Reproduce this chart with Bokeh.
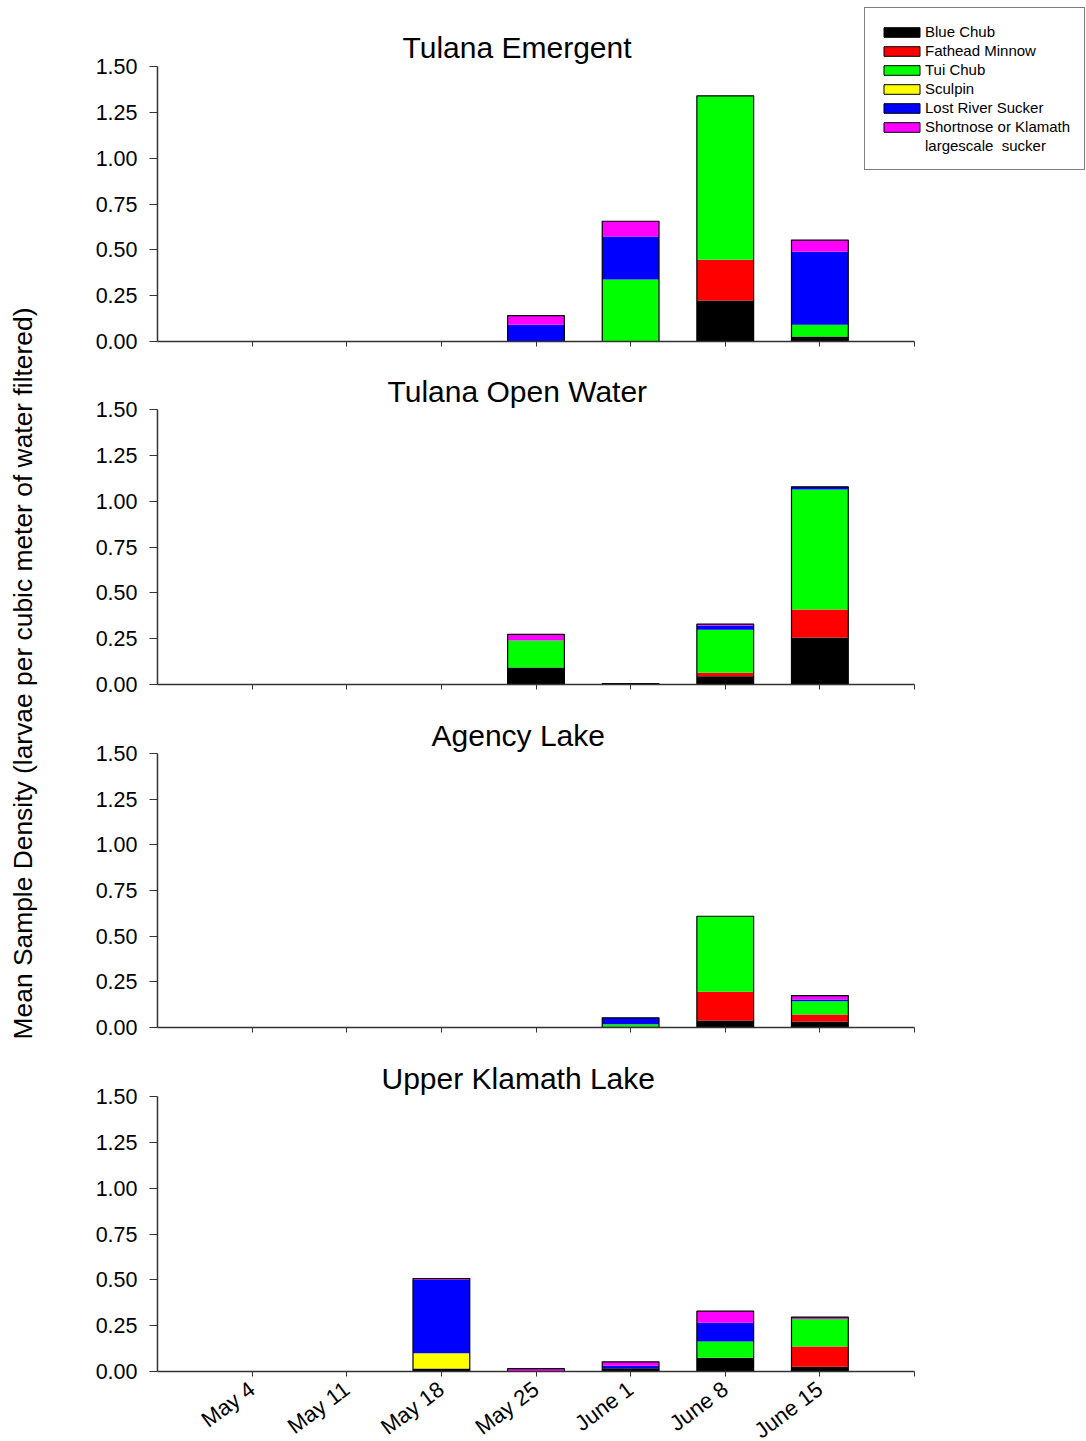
import math
from bokeh.plotting import figure
from bokeh.layouts import column, row
from bokeh.models import (Range1d, FixedTicker, Legend, LegendItem,
                          ColumnDataSource, NumeralTickFormatter)
from bokeh.core.properties import value
from bokeh.embed import file_html
from bokeh.resources import INLINE

FONT = "Liberation Sans"

dates = ["May 4", "May 11", "May 18", "May 25", "June 1", "June 8", "June 15"]
species = ["Blue Chub", "Fathead Minnow", "Tui Chub", "Sculpin",
           "Lost River Sucker", "Shortnose or Klamath"]
species_keys = ["blue_chub", "fathead", "tui", "sculpin", "lrs", "shortnose"]
colors = ["#000000", "#FF0000", "#00FF00", "#FFFF00", "#0000FF", "#FF00FF"]
y_ticks = [0.0, 0.25, 0.5, 0.75, 1.0, 1.25, 1.5]

# Tulana Emergent
te_blue_chub = [0, 0, 0, 0, 0, 0.224, 0.027]
te_fathead = [0, 0, 0, 0, 0, 0.222, 0]
te_tui = [0, 0, 0, 0, 0.338, 0.894, 0.064]
te_sculpin = [0, 0, 0, 0, 0, 0, 0]
te_lrs = [0, 0, 0, 0.091, 0.235, 0, 0.398]
te_shortnose = [0, 0, 0, 0.050, 0.083, 0, 0.064]

# Tulana Open Water
to_blue_chub = [0, 0, 0, 0.093, 0.005, 0.045, 0.256]
to_fathead = [0, 0, 0, 0, 0, 0.019, 0.153]
to_tui = [0, 0, 0, 0.147, 0, 0.234, 0.655]
to_sculpin = [0, 0, 0, 0, 0, 0, 0]
to_lrs = [0, 0, 0, 0, 0, 0.024, 0.014]
to_shortnose = [0, 0, 0, 0.033, 0, 0.007, 0]

# Agency Lake
al_blue_chub = [0, 0, 0, 0, 0.005, 0.038, 0.033]
al_fathead = [0, 0, 0, 0, 0, 0.158, 0.038]
al_tui = [0, 0, 0, 0, 0.013, 0.413, 0.073]
al_sculpin = [0, 0, 0, 0, 0, 0, 0]
al_lrs = [0, 0, 0, 0, 0.035, 0, 0.009]
al_shortnose = [0, 0, 0, 0, 0, 0, 0.022]

# Upper Klamath Lake
uk_blue_chub = [0, 0, 0.016, 0, 0.018, 0.075, 0.026]
uk_fathead = [0, 0, 0, 0, 0, 0, 0.111]
uk_tui = [0, 0, 0, 0, 0, 0.089, 0.149]
uk_sculpin = [0, 0, 0.084, 0, 0, 0, 0]
uk_lrs = [0, 0, 0.400, 0, 0.013, 0.102, 0]
uk_shortnose = [0, 0, 0.007, 0.016, 0.022, 0.063, 0.011]

panels = [
    ("Tulana Emergent", [te_blue_chub, te_fathead, te_tui, te_sculpin, te_lrs, te_shortnose]),
    ("Tulana Open Water", [to_blue_chub, to_fathead, to_tui, to_sculpin, to_lrs, to_shortnose]),
    ("Agency Lake", [al_blue_chub, al_fathead, al_tui, al_sculpin, al_lrs, al_shortnose]),
    ("Upper Klamath Lake", [uk_blue_chub, uk_fathead, uk_tui, uk_sculpin, uk_lrs, uk_shortnose]),
]

y_label = "Mean Sample Density (larvae per cubic meter of water filtered)"

# layout geometry: (border_top, frame_height, border_bottom, title_offset)
geom = [(66, 275, 14, 245), (54, 275, 14, 230), (55, 274, 14, 274), (55, 275, 70, 224)]

LABEL_W = 44
FRAME_LEFT = 157
PX_PER_UNIT = (914 - 157) / 8.0
PX_PER_Y = 275 / 1.5
x_idx = list(range(len(dates)))

figs = []
for i, ((title, arrays), (bt, fh, bb, toff)) in enumerate(zip(panels, geom)):
    if i == 0:
        # frame reaches the page top and right edge so the legend is not clipped
        fw = 1086 - FRAME_LEFT
        x_end = -1 + fw / PX_PER_UNIT
        rb = 0
        fh_eff = fh + bt
        y_end = fh_eff / PX_PER_Y
        bt_eff = 0
    else:
        fw = 757
        x_end = 7
        rb = 172
        fh_eff = fh
        y_end = 1.5
        bt_eff = bt
    p = figure(frame_width=fw, frame_height=fh_eff,
               min_border_left=FRAME_LEFT - LABEL_W, min_border_right=rb,
               min_border_top=bt_eff, min_border_bottom=bb,
               x_range=Range1d(-1, x_end), y_range=Range1d(0, y_end),
               output_backend="svg", toolbar_location=None,
               outline_line_color=None)
    p.grid.visible = False
    data = {"x": x_idx}
    for k, arr in zip(species_keys, arrays):
        data[k] = arr
    src = ColumnDataSource(data)
    p.vbar_stack(species_keys, x="x", width=0.6, fill_color=colors,
                 line_color=None, source=src)
    totals = [sum(v) for v in zip(*arrays)]
    p.vbar(x=x_idx, top=totals, width=0.6, fill_color=None,
           line_color="black", line_width=1.2)

    # title
    if i == 0:
        p.title.visible = False
        p.text(x=[toff / PX_PER_UNIT - 1], y=[1.5 + 19 / PX_PER_Y],
               text=[title], text_align="left", text_baseline="alphabetic",
               text_font=value(FONT), text_font_size="30px", text_color="black")
    else:
        p.title.text = title
        p.title.align = "left"
        p.title.offset = toff
        p.title.text_font = FONT
        p.title.text_font_size = "30px"
        p.title.text_font_style = "normal"
        p.title.text_color = "black"
        p.title.standoff = 3

    # y axis
    ya = p.yaxis[0]
    ya.bounds = (0, 1.5)
    ya.ticker = FixedTicker(ticks=y_ticks)
    ya.formatter = NumeralTickFormatter(format="0.00")
    ya.major_label_text_font = FONT
    ya.major_label_text_font_size = "21.5px"
    ya.major_label_text_color = "black"
    ya.major_tick_in = 0
    ya.major_tick_out = 8
    ya.minor_tick_line_color = None
    ya.major_label_standoff = 12
    ya.axis_line_color = "#333333"
    ya.axis_line_width = 1.5
    ya.major_tick_line_color = "#333333"

    # x axis
    xa = p.xaxis[0]
    xa.bounds = (-1, 7)
    xa.ticker = FixedTicker(ticks=list(range(0, 8)))
    overrides = {j: d for j, d in enumerate(dates)}
    overrides[7] = ""
    xa.major_tick_in = 0
    xa.major_tick_out = 5
    xa.minor_tick_line_color = None
    xa.axis_line_color = "#333333"
    xa.axis_line_width = 1.5
    xa.major_tick_line_color = "#333333"
    if i == 3:
        xa.major_label_overrides = overrides
        xa.major_label_text_font = FONT
        xa.major_label_text_font_size = "22px"
        xa.major_label_text_color = "black"
        xa.major_label_orientation = 0.64
        xa.major_label_standoff = 10
    else:
        xa.major_label_overrides = {j: "" for j in range(8)}
        xa.major_label_text_font_size = "1px"
        xa.major_label_standoff = 0

    if i == 0:
        items = []
        for name, c in zip(species, colors):
            r = p.vbar(x=[float("nan")], top=[float("nan")], width=0.6,
                       fill_color=c, line_color="black", line_width=1)
            items.append(LegendItem(label=name, renderers=[r]))
        r = p.vbar(x=[float("nan")], top=[float("nan")], width=0.6,
                   fill_alpha=0, line_alpha=0)
        items.append(LegendItem(label="largescale  sucker", renderers=[r]))
        # legend box: left edge at page x=864, bottom edge at page y=170
        leg = Legend(items=items, location=(864 - FRAME_LEFT, 341 - 170))
        leg.label_text_font = FONT
        leg.label_text_font_size = "15px"
        leg.label_text_color = "black"
        leg.glyph_width = 45
        leg.glyph_height = 12
        leg.label_standoff = 1
        leg.label_height = 19
        leg.spacing = 0
        leg.padding = 14
        leg.margin = 0
        leg.border_line_color = "black"
        leg.border_line_width = 1
        leg.background_fill_color = "white"
        leg.background_fill_alpha = 1
        p.add_layout(leg)
    figs.append(p)

lab = figure(width=LABEL_W, height=1441, x_range=Range1d(0, LABEL_W),
             y_range=Range1d(0, 1441), min_border=0,
             x_axis_location=None, y_axis_location=None,
             output_backend="svg", toolbar_location=None,
             outline_line_color=None)
lab.grid.visible = False
lab.text(x=[22], y=[1441 - 673], text=[y_label], angle=math.pi / 2,
         text_align="center", text_baseline="middle",
         text_font=value(FONT), text_font_size="26.4px", text_color="black")

layout = row(lab, column(*figs, spacing=0), spacing=0)

with open("out.html", "w") as f:
    f.write(file_html(layout, INLINE))
